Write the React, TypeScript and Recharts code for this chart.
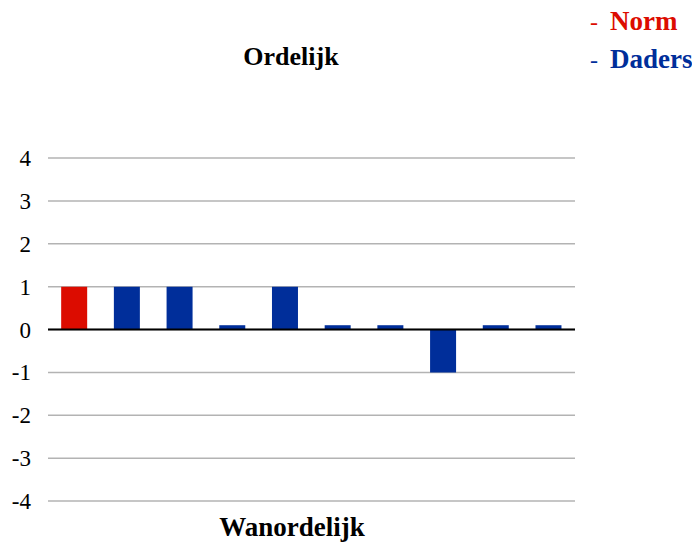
import React from "react";
import {
  BarChart,
  Bar,
  XAxis,
  YAxis,
  CartesianGrid,
  ReferenceLine,
  Cell
} from "recharts";

// categories (no visible labels in the chart)
const categories = ["Norm", "D1", "D2", "D3", "D4", "D5", "D6", "D7", "D8", "D9"];
const scores = [1, 1, 1, 0.1, 1, 0.1, 0.1, -1, 0.1, 0.1];
const groups = ["Norm", "Daders", "Daders", "Daders", "Daders", "Daders", "Daders", "Daders", "Daders", "Daders"];
const yTicks = [-4, -3, -2, -1, 0, 1, 2, 3, 4];

const RED = "#dc0c00";
const BLUE = "#002e9a";
const FONT = "Liberation Serif";

const data = categories.map((name, i) => ({
  name,
  score: scores[i],
  group: groups[i]
}));

const YTick = (props: any) => {
  const { x, y, payload } = props;
  return (
    <text
      x={x}
      y={y}
      dy={8}
      textAnchor="end"
      fill="#000"
      fontSize={23}
      style={{ fontFamily: FONT }}
    >
      {payload.value}
    </text>
  );
};

export default function App() {
  return (
    <div
      style={{
        position: "absolute",
        left: 0,
        top: 0,
        width: 692,
        height: 542,
        background: "#fff",
        fontFamily: FONT
      }}
    >
      <BarChart
        width={692}
        height={542}
        data={data}
        margin={{ top: 158, right: 117, bottom: 41, left: 0 }}
        barCategoryGap="25%"
      >
        <CartesianGrid vertical={false} stroke="#b3b3b3" strokeWidth={1.5} />
        <XAxis dataKey="name" hide />
        <YAxis
          domain={[-4, 4]}
          ticks={yTicks}
          width={48}
          axisLine={false}
          tickLine={false}
          tickMargin={11}
          tick={<YTick />}
        />
        <Bar dataKey="score" isAnimationActive={false}>
          {data.map((d) => (
            <Cell key={d.name} fill={d.group === "Norm" ? RED : BLUE} />
          ))}
        </Bar>
        <ReferenceLine y={0} stroke="#000" strokeWidth={2} />
      </BarChart>

      <svg
        width={692}
        height={542}
        style={{ position: "absolute", left: 0, top: 0, pointerEvents: "none" }}
        fontFamily={FONT}
        fontWeight="bold"
      >
        <text x={291} y={65} textAnchor="middle" fontSize={26} fill="#000">Ordelijk</text>
        <text x={292} y={536} textAnchor="middle" fontSize={27} fill="#000">Wanordelijk</text>
        <text x={590} y={30} fontSize={24} fill={RED} fontWeight="normal">-</text>
        <text x={610} y={30} fontSize={27} fill={RED}>Norm</text>
        <text x={590} y={68} fontSize={24} fill={BLUE} fontWeight="normal">-</text>
        <text x={610} y={68} fontSize={27} fill={BLUE}>Daders</text>
      </svg>
    </div>
  );
}
